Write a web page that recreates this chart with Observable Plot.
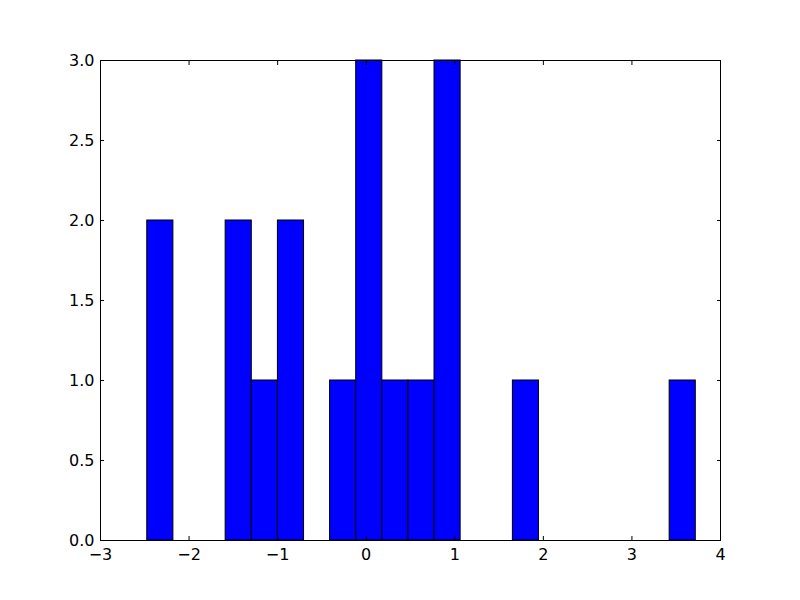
<!DOCTYPE html>
<html>
<head>
<meta charset="utf-8">
<script src="https://cdn.jsdelivr.net/npm/d3@7"></script>
<script src="https://cdn.jsdelivr.net/npm/@observablehq/plot@0.6"></script>
<style>
  html, body { margin: 0; padding: 0; background: #fff; }
  svg { display: block; }
</style>
</head>
<body>
<div id="chart"></div>
<script>
// Histogram bin edges and counts per bin
const binEdges = [-2.472, -2.177, -1.882, -1.587, -1.292, -0.997, -0.702, -0.408, -0.113,
                  0.182, 0.477, 0.771, 1.066, 1.361, 1.656, 1.951, 2.246, 2.541, 2.836,
                  3.131, 3.426, 3.721];
const binCounts = [2, 0, 0, 2, 1, 2, 0, 1, 3, 1, 1, 3, 0, 0, 1, 0, 0, 0, 0, 0, 1];
const xTicks = [-3, -2, -1, 0, 1, 2, 3, 4];
const yTicks = [0.0, 0.5, 1.0, 1.5, 2.0, 2.5, 3.0];

const bins = binCounts.map((c, i) => ({x1: binEdges[i], x2: binEdges[i + 1], count: c}))
  .filter(d => d.count > 0);

const fmtX = d => (d < 0 ? "\u2212" + Math.abs(d) : String(d));
const fmtY = d => d.toFixed(1);

const chart = Plot.plot({
  width: 800,
  height: 600,
  marginLeft: 100,
  marginRight: 80,
  marginTop: 60,
  marginBottom: 60,
  style: {fontFamily: "'DejaVu Sans', sans-serif", fontSize: "16px", color: "#000", background: "#fff"},
  x: {domain: [-3, 4]},
  y: {domain: [0, 3]},
  marks: [
    Plot.rectY(bins, {x1: "x1", x2: "x2", y: "count", fill: "#0000ff", stroke: "#000", strokeWidth: 1}),
    Plot.axisX(xTicks, {anchor: "bottom", tickSize: 0, tickPadding: 8, tickFormat: fmtX, label: null, fill: "#000"}),
    Plot.axisX(xTicks, {anchor: "bottom", tickSize: -4, tickFormat: () => "", label: null, stroke: "#000"}),
    Plot.axisX(xTicks, {anchor: "top", tickSize: -4, tickFormat: () => "", label: null, stroke: "#000"}),
    Plot.axisY(yTicks, {anchor: "left", tickSize: 0, tickPadding: 6, tickFormat: fmtY, label: null, fill: "#000"}),
    Plot.axisY(yTicks, {anchor: "left", tickSize: -4, tickFormat: () => "", label: null, stroke: "#000"}),
    Plot.axisY(yTicks, {anchor: "right", tickSize: -4, tickFormat: () => "", label: null, stroke: "#000"}),
    Plot.frame({stroke: "#000", strokeWidth: 1})
  ]
});
document.getElementById("chart").appendChild(chart);
</script>
</body>
</html>
